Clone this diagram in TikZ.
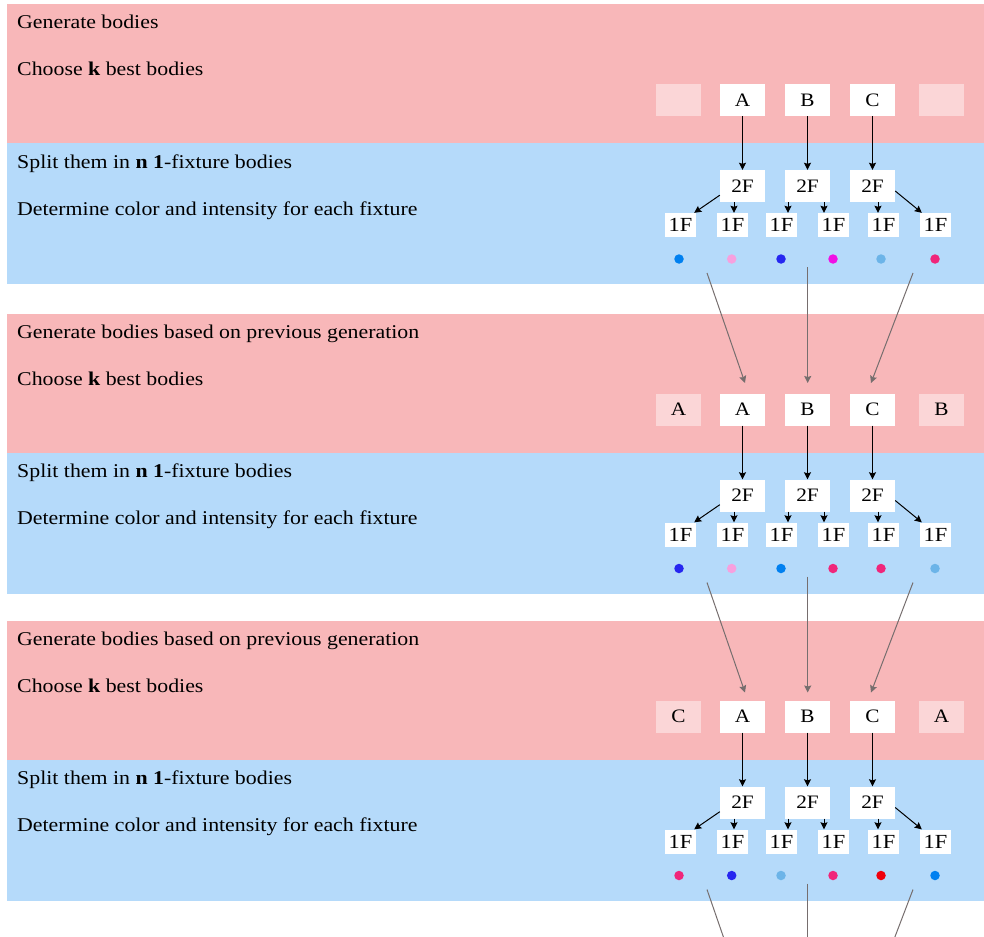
\documentclass[tikz,border=0pt]{standalone}
\usepackage{fontspec}
\setmainfont[FakeStretch=1.12]{Liberation Serif}
\usetikzlibrary{arrows.meta,calc}

% band and marker colours
\definecolor{bandred}{RGB}{248,183,185}
\definecolor{bandblue}{RGB}{181,218,250}
\definecolor{linkgray}{RGB}{118,110,110}
\definecolor{dazure}{RGB}{0,128,240}
\definecolor{dpink}{RGB}{247,160,222}
\definecolor{dblue}{RGB}{38,38,240}
\definecolor{dmagenta}{RGB}{240,16,228}
\definecolor{dsky}{RGB}{108,180,232}
\definecolor{drose}{RGB}{240,38,122}
\definecolor{dred}{RGB}{240,0,12}

\tikzset{
  band/.style={draw=none, inner sep=0pt, anchor=north west, minimum width=977pt},
  steptext/.style={inner sep=0pt, anchor=base west, font=\fontsize{19.5}{20}\selectfont},
  body/.style={fill=white, inner sep=0pt, minimum width=45pt, minimum height=32pt,
    font=\fontsize{19}{19}\selectfont},
  ghost/.style={body, fill opacity=0.43, text opacity=1},
  single/.style={fill=white, inner sep=0pt, minimum width=31pt, minimum height=24pt,
    font=\fontsize{20}{20}\selectfont},
  fixture/.style={circle, inner sep=0pt, minimum size=9.5pt},
  split/.style={-{Stealth[length=7pt,width=7pt,inset=1pt]}, line width=1pt, black},
  carry/.style={-{Stealth[length=7pt,width=7pt,inset=1pt]}, line width=1pt, linkgray},
}

\begin{document}
\begin{tikzpicture}[x=1pt,y=-1pt]
\useasboundingbox (0,0) rectangle (984,936);
\clip (0,0) rectangle (984,936);

% background bands of the three generations
\foreach \r/\off in {1/0, 2/309.5, 3/616.5}
{
\begin{scope}[shift={(0,\off)}]
  \node[band, fill=bandred, minimum height=139pt] (sel\r) at (7,4) {};
  \node[band, fill=bandblue, minimum height=141pt] (spl\r) at (7,143) {};
\end{scope}
}

\foreach \r/\off/\title/\ll/\rl/\ca/\cb/\cc/\cd/\ce/\cf in {
  1/0/{Generate bodies}/{}/{}/dazure/dpink/dblue/dmagenta/dsky/drose,
  2/309.5/{Generate bodies based on previous generation}/A/B/dblue/dpink/dazure/drose/drose/dsky,
  3/616.5/{Generate bodies based on previous generation}/C/A/drose/dblue/dsky/drose/dred/dazure}
{
\begin{scope}[shift={(0,\off)}]
  \node[steptext] (t1\r) at (17,29) {\title};
  \node[steptext] (t2\r) at (17,76) {Choose \textbf{k} best bodies};
  \node[steptext] (t3\r) at (17,168) {Split them in \textbf{n 1}-fixture bodies};
  \node[steptext] (t4\r) at (17,215) {Determine color and intensity for each fixture};

  % chosen bodies
  \node[ghost] (L\r) at (678.5,100) {\ll};
  \node[body] (A\r) at (742.5,100) {A};
  \node[body] (B\r) at (807.5,100) {B};
  \node[body] (C\r) at (872.5,100) {C};
  \node[ghost] (R\r) at (941.5,100) {\rl};

  % two-fixture bodies
  \node[body] (FA\r) at (742.5,186) {2F};
  \node[body] (FB\r) at (807.5,186) {2F};
  \node[body] (FC\r) at (872.5,186) {2F};

  % one-fixture bodies
  \node[single] (Fa\r) at (680.5,225) {1F};
  \node[single] (Fb\r) at (732.5,225) {1F};
  \node[single] (Fc\r) at (781.5,225) {1F};
  \node[single] (Fd\r) at (833.5,225) {1F};
  \node[single] (Fe\r) at (883.5,225) {1F};
  \node[single] (Ff\r) at (935.5,225) {1F};

  % fixture colours
  \node[fixture, fill=\ca] (d1\r) at (679,259) {};
  \node[fixture, fill=\cb] (d2\r) at (731.7,259) {};
  \node[fixture, fill=\cc] (d3\r) at (781,259) {};
  \node[fixture, fill=\cd] (d4\r) at (833,259) {};
  \node[fixture, fill=\ce] (d5\r) at (881,259) {};
  \node[fixture, fill=\cf] (d6\r) at (935,259) {};

  % splitting arrows
  \draw[split] (A\r) -- (FA\r);
  \draw[split] (B\r) -- (FB\r);
  \draw[split] (C\r) -- (FC\r);
  \draw[split] ($(FA\r.south west)+(0,-7)$) -- ($(Fa\r.north east)+(-2,0)$);
  \draw[split] ($(FA\r.south)+(-8.5,0)$) -- ($(Fb\r.north)+(1.5,0)$);
  \draw[split] ($(FB\r.south)+(-19.5,0)$) -- ($(Fc\r.north)+(6.5,0)$);
  \draw[split] ($(FB\r.south)+(16.5,0)$) -- ($(Fd\r.north)+(-9.5,0)$);
  \draw[split] ($(FC\r.south)+(5.5,0)$) -- ($(Fe\r.north)+(-5.5,0)$);
  \draw[split] ($(FC\r.east)+(0,5)$) -- ($(Ff\r.north west)+(2,0)$);

  % links to the next generation
  \coordinate (s1\r) at (707,273);
  \coordinate (s2\r) at (807.7,267);
  \coordinate (s3\r) at (913,273);
  \coordinate (e1\r) at (745,383);
  \coordinate (e2\r) at (807.7,383);
  \coordinate (e3\r) at (871,383);
  \draw[carry] (s1\r) -- (e1\r);
  \draw[carry] (s2\r) -- (e2\r);
  \draw[carry] (s3\r) -- (e3\r);
\end{scope}
}
\end{tikzpicture}
\end{document}
